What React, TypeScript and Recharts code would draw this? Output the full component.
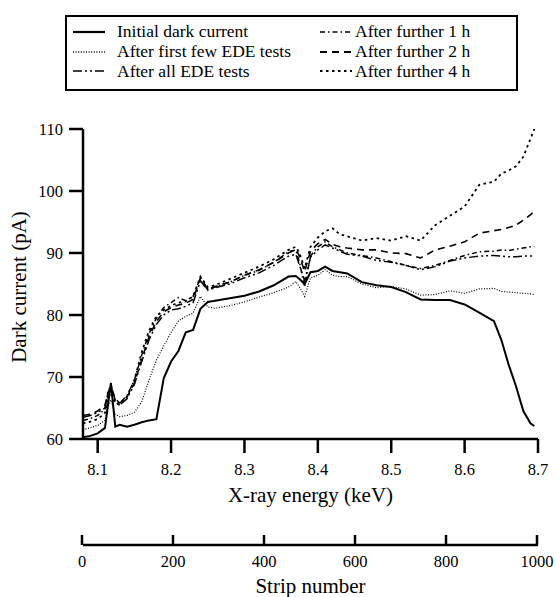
import React from 'react';
import { LineChart, Line, XAxis, YAxis, Legend, Label } from 'recharts';

const FONT = '"Liberation Serif", "Times New Roman", serif';

const energy = [8.08, 8.09, 8.10, 8.11, 8.114, 8.118, 8.124, 8.13, 8.14, 8.15, 8.16, 8.17, 8.18, 8.19, 8.20, 8.21, 8.22, 8.23, 8.24, 8.25, 8.26, 8.28, 8.30, 8.32, 8.34, 8.36, 8.37, 8.375, 8.382, 8.39, 8.40, 8.41, 8.42, 8.43, 8.44, 8.46, 8.48, 8.50, 8.52, 8.54, 8.56, 8.58, 8.60, 8.62, 8.64, 8.65, 8.66, 8.67, 8.68, 8.69, 8.695];

const initialDark = [60.3, 60.5, 60.9, 61.8, 65.5, 69.0, 62.0, 62.3, 62.0, 62.3, 62.7, 63.0, 63.2, 69.8, 72.5, 74.2, 77.2, 77.6, 81.0, 82.1, 82.3, 82.7, 83.1, 83.8, 84.8, 86.2, 86.3, 85.8, 85.0, 86.9, 87.1, 87.8, 87.1, 86.9, 86.7, 85.3, 84.8, 84.5, 83.7, 82.5, 82.4, 82.4, 81.7, 80.4, 79.0, 76.0, 72.0, 68.5, 64.5, 62.5, 62.1];

const afterFirstFew = [61.5, 61.8, 62.2, 63.0, 65.0, 66.3, 64.0, 63.6, 63.8, 64.3, 66.0, 69.5, 72.7, 75.0, 77.2, 79.0, 79.8, 80.3, 83.0, 81.3, 81.1, 81.5, 82.1, 82.9, 83.6, 84.5, 85.4, 84.5, 83.0, 86.0, 86.4, 87.3, 86.4, 86.2, 86.2, 85.0, 84.4, 84.6, 84.2, 83.2, 83.3, 83.9, 83.5, 84.2, 84.3, 83.8, 83.7, 83.6, 83.5, 83.4, 83.3];

const afterAllEDE = [63.5, 63.8, 64.3, 65.0, 67.0, 68.2, 66.0, 65.5, 66.5, 68.8, 72.5, 76.0, 78.5, 80.0, 80.8, 81.0, 81.4, 82.0, 85.5, 84.0, 84.4, 85.0, 86.0, 86.8, 88.0, 89.5, 89.8, 88.0, 85.5, 89.3, 90.5, 91.3, 90.8, 90.3, 89.8, 89.5, 88.8, 88.5, 88.0, 87.3, 87.8, 88.7, 89.2, 89.5, 89.6, 89.5, 89.4, 89.4, 89.5, 89.5, 89.5];

const afterFurther1h = [63.0, 63.3, 63.8, 64.8, 67.5, 68.8, 66.2, 65.8, 67.0, 69.5, 73.5, 77.0, 79.5, 81.2, 82.0, 82.8, 82.3, 83.0, 86.0, 84.2, 84.5, 85.3, 86.4, 87.2, 88.5, 90.2, 90.5, 88.5, 84.5, 89.5, 91.0, 91.8, 91.0, 90.5, 90.0, 89.6, 89.2, 88.6, 88.0, 87.5, 88.0, 88.8, 89.6, 90.2, 90.3, 90.5, 90.4, 90.6, 90.8, 91.0, 91.0];

const afterFurther2h = [63.8, 64.0, 64.5, 65.5, 67.5, 68.5, 66.5, 65.8, 66.8, 69.0, 72.8, 76.5, 79.0, 80.5, 81.2, 81.6, 81.9, 82.5, 86.0, 84.0, 84.6, 85.3, 86.4, 87.3, 88.5, 90.0, 90.6, 89.5, 87.0, 90.3, 91.5, 92.2, 91.4, 91.0, 90.8, 90.5, 90.5, 90.0, 89.9, 89.2, 90.5, 91.1, 91.8, 93.2, 93.6, 93.8, 94.1, 94.5, 95.3, 96.2, 96.7];

const afterFurther4h = [62.5, 62.8, 63.2, 64.2, 66.5, 67.5, 65.8, 65.5, 66.8, 69.5, 74.0, 77.5, 79.8, 80.8, 81.5, 82.0, 82.2, 83.0, 86.2, 84.5, 84.8, 85.8, 86.8, 87.8, 89.0, 90.5, 91.0, 90.0, 87.5, 91.0, 92.5, 93.5, 94.0, 93.0, 92.7, 92.0, 92.4, 92.0, 92.7, 92.0, 94.5, 96.0, 97.5, 101.0, 101.5, 102.8, 103.3, 104.0, 105.5, 108.5, 110.0];

const energyTicks = [8.1, 8.2, 8.3, 8.4, 8.5, 8.6, 8.7];
const currentTicks = [60, 70, 80, 90, 100, 110];
const stripTicks = [0, 200, 400, 600, 800, 1000];

const data = energy.map((e, i) => ({
  e,
  s0: initialDark[i],
  s1: afterFirstFew[i],
  s2: afterAllEDE[i],
  s3: afterFurther1h[i],
  s4: afterFurther2h[i],
  s5: afterFurther4h[i],
}));

const SERIES = [
  { key: 's0', name: 'Initial dark current', dash: undefined as string | undefined, width: 2 },
  { key: 's1', name: 'After first few EDE tests', dash: '1 1.6', width: 1.2 },
  { key: 's2', name: 'After all EDE tests', dash: '9 3 2 3 2 3', width: 1.5 },
  { key: 's3', name: 'After further 1 h', dash: '5 3 1.5 3', width: 1.5 },
  { key: 's4', name: 'After further 2 h', dash: '7 5', width: 1.6 },
  { key: 's5', name: 'After further 4 h', dash: '2.5 3.5', width: 1.8 },
];

const AX = { stroke: '#000', strokeWidth: 2.5 };
const TICK = { fill: '#000', fontSize: 16.5, fontFamily: FONT };

const renderLegend = () => {
  const sampleTops = [14.6, 34.5, 54.2];
  const baselines = [20.3, 40.3, 60];
  return (
    <div
      style={{
        position: 'relative',
        width: 453,
        height: 76,
        border: '2px solid #000',
        boxSizing: 'border-box',
        background: '#fff',
        fontFamily: FONT,
        fontSize: 17.5,
        color: '#000',
      }}
    >
      {SERIES.map((s, i) => {
        const col = i < 3 ? 0 : 1;
        const row = i % 3;
        const sx = col === 0 ? 6 : 253;
        const tx = col === 0 ? 50 : 288;
        return (
          <React.Fragment key={s.key}>
            <svg
              width={32}
              height={10}
              style={{ position: 'absolute', left: sx, top: sampleTops[row] - 5 }}
            >
              <line x1={0} y1={5} x2={32} y2={5} stroke="#000" strokeWidth={s.width + 0.2} strokeDasharray={s.dash} />
            </svg>
            <span
              style={{
                position: 'absolute',
                left: tx,
                top: baselines[row] - 16.9,
                lineHeight: '22px',
                whiteSpace: 'nowrap',
              }}
            >
              {s.name}
            </span>
          </React.Fragment>
        );
      })}
    </div>
  );
};

const StripTick = (props: any) => {
  const { x, y, payload } = props;
  return (
    <g>
      <line x1={x} x2={x} y1={y} y2={y - 10} stroke="#000" strokeWidth={2.5} />
      <text x={x} y={y + 22} textAnchor="middle" fontSize={16.5} fontFamily={FONT} fill="#000">
        {payload.value}
      </text>
    </g>
  );
};

export default function App() {
  return (
    <div style={{ position: 'absolute', left: 0, top: 0, width: 556, height: 597, background: '#fff' }}>
      <LineChart
        width={556}
        height={597}
        data={data}
        margin={{ top: 129, right: 18, bottom: 0, left: 23 }}
      >
        <XAxis
          xAxisId="energy"
          dataKey="e"
          type="number"
          domain={[8.08, 8.7]}
          ticks={energyTicks}
          allowDataOverflow
          orientation="bottom"
          height={106}
          axisLine={AX}
          tickLine={AX}
          tickSize={14}
          tickMargin={10}
          tick={TICK}
          interval={0}
        >
          <Label
            content={(p: any) => {
              const vb = p.viewBox;
              return (
                <text x={vb.x + vb.width / 2} y={vb.y + 63} textAnchor="middle" fontSize={21} fontFamily={FONT} fill="#000">
                  X-ray energy (keV)
                </text>
              );
            }}
          />
        </XAxis>
        <XAxis
          xAxisId="strip"
          dataKey="e"
          type="number"
          domain={[0, 1000]}
          ticks={stripTicks}
          allowDataOverflow
          orientation="bottom"
          height={52}
          padding={{ left: -1, right: 1 }}
          axisLine={AX}
          tickLine={false}
          tickSize={0}
          tickMargin={0}
          tick={<StripTick />}
          interval={0}
        >
          <Label
            content={(p: any) => {
              const vb = p.viewBox;
              return (
                <text x={vb.x + vb.width / 2} y={vb.y + 48} textAnchor="middle" fontSize={21} fontFamily={FONT} fill="#000">
                  Strip number
                </text>
              );
            }}
          />
        </XAxis>
        <XAxis
          xAxisId="top"
          dataKey="e"
          type="number"
          domain={[8.08, 8.7]}
          ticks={energyTicks}
          allowDataOverflow
          orientation="top"
          height={0}
          axisLine={AX}
          tickLine={AX}
          tickSize={14}
          tick={false}
          interval={0}
        />
        <YAxis
          yAxisId="left"
          type="number"
          domain={[60, 110]}
          ticks={currentTicks}
          allowDataOverflow
          width={60}
          axisLine={AX}
          tickLine={AX}
          tickSize={14}
          tickMargin={6}
          tick={TICK}
          interval={0}
        >
          <Label
            content={(p: any) => {
              const vb = p.viewBox;
              const cx = vb.x - 4;
              const cy = 287;
              return (
                <text
                  x={cx}
                  y={cy}
                  textAnchor="middle"
                  dominantBaseline="central"
                  transform={`rotate(-90 ${cx} ${cy})`}
                  fontSize={21}
                  fontFamily={FONT}
                  fill="#000"
                >
                  Dark current (pA)
                </text>
              );
            }}
          />
        </YAxis>
        <YAxis
          yAxisId="right"
          orientation="right"
          type="number"
          domain={[60, 110]}
          ticks={currentTicks}
          allowDataOverflow
          width={0}
          axisLine={AX}
          tickLine={AX}
          tickSize={14}
          tick={false}
          interval={0}
        />
        <Legend
          layout="horizontal"
          verticalAlign="middle"
          align="center"
          content={renderLegend}
          wrapperStyle={{ position: 'absolute', left: 65, top: 15, width: 453, height: 76 }}
        />
        {SERIES.map((s) => (
          <Line
            key={s.key}
            xAxisId="energy"
            yAxisId="left"
            dataKey={s.key}
            name={s.name}
            type="linear"
            stroke="#000"
            strokeWidth={s.width}
            strokeDasharray={s.dash}
            dot={false}
            activeDot={false}
            isAnimationActive={false}
          />
        ))}
      </LineChart>
    </div>
  );
}
